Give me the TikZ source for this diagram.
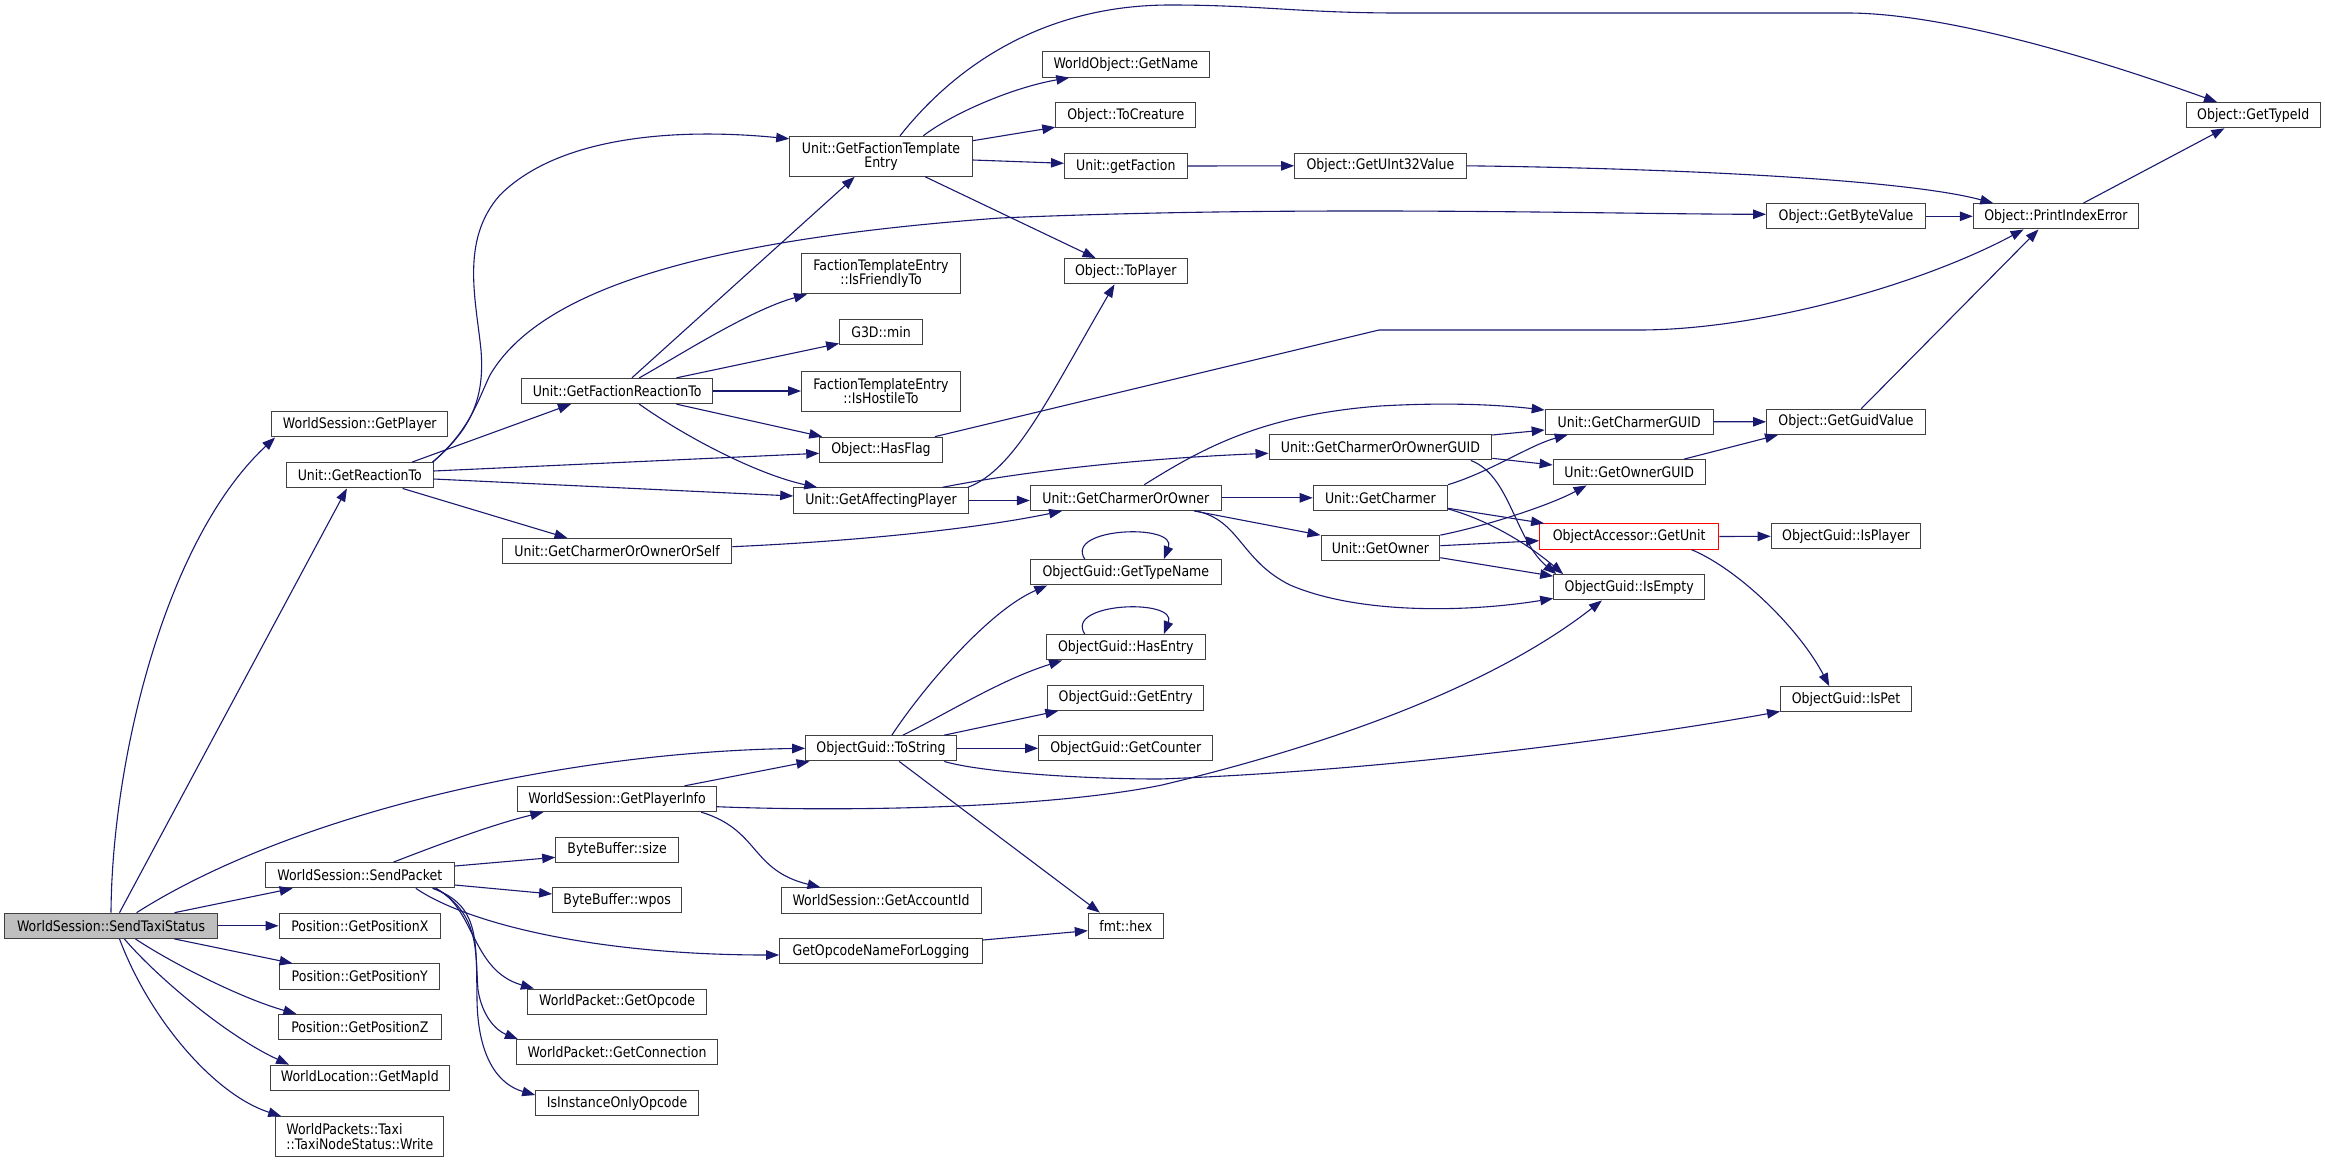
\documentclass[tikz,border=0pt]{standalone}
\usepackage{fontspec}
\newfontfamily\dvs[FakeStretch=0.865]{DejaVu Sans}
\usetikzlibrary{arrows.meta,calc}
\definecolor{edgecol}{HTML}{191970}
\definecolor{rootfill}{HTML}{BFBFBF}
\begin{document}
\begin{tikzpicture}[x=1bp,y=-1bp,
  fn/.style={draw=black!75, line width=1bp, fill=white, inner sep=0pt, minimum height=25.3bp,
     font=\dvs\fontsize{14.5bp}{14.3bp}\selectfont, text=black},
  two/.style={fn, minimum height=40bp, align=center},
  e/.style={draw=edgecol, line width=1.1bp, -{Triangle[length=13bp,width=9.5bp]}}]
\fill[white] (0,0) rectangle (2325,1163);
\useasboundingbox (0,0) rectangle (2325,1163);
% rank 0
\node[fn, fill=rootfill, minimum width=212.3bp] (S) at (111,925.8) {WorldSession::SendTaxiStatus};
% rank 1
\node[fn, minimum width=176.3bp] (GP)  at (359.8,424.3) {WorldSession::GetPlayer};
\node[fn, minimum width=146.6bp] (GRT) at (359.8,475.3) {Unit::GetReactionTo};
\node[fn, minimum width=189.3bp] (SP)  at (359.8,875.2) {WorldSession::SendPacket};
\node[fn, minimum width=161.5bp] (PX)  at (359.8,925.8) {Position::GetPositionX};
\node[fn, minimum width=160bp]   (PY)  at (359.8,976.5) {Position::GetPositionY};
\node[fn, minimum width=163bp]   (PZ)  at (359.8,1027) {Position::GetPositionZ};
\node[fn, minimum width=179bp]   (MAP) at (359.8,1077.8) {WorldLocation::GetMapId};
\node[two, minimum width=168.1bp, align=left] (WR) at (359.8,1136.7) {WorldPackets::Taxi\\::TaxiNodeStatus::Write};
% rank 2
\node[fn, minimum width=190.6bp] (GFR)   at (617.1,391) {Unit::GetFactionReactionTo};
\node[fn, minimum width=229.6bp] (GCOOS) at (617.1,551.2) {Unit::GetCharmerOrOwnerOrSelf};
\node[fn, minimum width=198.4bp] (GPI)   at (617.1,799) {WorldSession::GetPlayerInfo};
\node[fn, minimum width=122.7bp] (BS)    at (617.1,849.7) {ByteBuffer::size};
\node[fn, minimum width=129bp]   (BW)    at (617.1,900.3) {ByteBuffer::wpos};
\node[fn, minimum width=178.8bp] (GOP)   at (617.1,1001.7) {WorldPacket::GetOpcode};
\node[fn, minimum width=201.4bp] (GCN)   at (617.1,1052.3) {WorldPacket::GetConnection};
\node[fn, minimum width=162.8bp] (IIO)   at (617.1,1103) {IsInstanceOnlyOpcode};
% rank 3
\node[two, minimum width=182.6bp] (GFTE) at (881,156.3) {Unit::GetFactionTemplate\\Entry};
\node[two, minimum width=159bp]   (IFT)  at (881,273.8) {FactionTemplateEntry\\::IsFriendlyTo};
\node[fn, minimum width=82.8bp]   (MIN)  at (881,332.3) {G3D::min};
\node[two, minimum width=159bp]   (IHT)  at (881,391) {FactionTemplateEntry\\::IsHostileTo};
\node[fn, minimum width=122.5bp]  (HF)   at (881,449.8) {Object::HasFlag};
\node[fn, minimum width=174.5bp]  (GAP)  at (881,500.5) {Unit::GetAffectingPlayer};
\node[fn, minimum width=150.7bp]  (TS)   at (881,748.3) {ObjectGuid::ToString};
\node[fn, minimum width=200bp]    (GAI)  at (881,900.5) {WorldSession::GetAccountId};
\node[fn, minimum width=202.7bp]  (GON)  at (881,951.2) {GetOpcodeNameForLogging};
% rank 4
\node[fn, minimum width=167bp]   (GN)  at (1125.8,64.5) {WorldObject::GetName};
\node[fn, minimum width=140bp]   (TC)  at (1125.8,115.3) {Object::ToCreature};
\node[fn, minimum width=122.7bp] (GF)  at (1125.8,166) {Unit::getFaction};
\node[fn, minimum width=122.7bp] (TP)  at (1125.8,271.2) {Object::ToPlayer};
\node[fn, minimum width=191bp]   (GCO) at (1125.8,497.8) {Unit::GetCharmerOrOwner};
\node[fn, minimum width=191bp]   (GTN) at (1125.8,572.3) {ObjectGuid::GetTypeName};
\node[fn, minimum width=159bp]   (HE)  at (1125.8,647.3) {ObjectGuid::HasEntry};
\node[fn, minimum width=156bp]   (GE)  at (1125.8,697.7) {ObjectGuid::GetEntry};
\node[fn, minimum width=174.3bp] (GCT) at (1125.8,748.3) {ObjectGuid::GetCounter};
\node[fn, minimum width=75bp]    (HEX) at (1125.8,925.7) {fmt::hex};
% rank 5
\node[fn, minimum width=171.5bp] (GU32) at (1380.4,165.8) {Object::GetUInt32Value};
\node[fn, minimum width=222.7bp] (GCOG) at (1380.4,447.3) {Unit::GetCharmerOrOwnerGUID};
\node[fn, minimum width=134.4bp] (GC)   at (1380.4,497.8) {Unit::GetCharmer};
\node[fn, minimum width=118.8bp] (GO)   at (1380.4,548.3) {Unit::GetOwner};
% rank 6
\node[fn, minimum width=168bp]   (GCG) at (1629.2,421.7) {Unit::GetCharmerGUID};
\node[fn, minimum width=152.2bp] (GOG) at (1629.2,472.3) {Unit::GetOwnerGUID};
\node[fn, minimum width=179.2bp, draw=red] (GUN) at (1629.2,536.5) {ObjectAccessor::GetUnit};
\node[fn, minimum width=151bp]   (IE)  at (1629.2,587.3) {ObjectGuid::IsEmpty};
% rank 7
\node[fn, minimum width=159bp]   (GBV)  at (1846,216.3) {Object::GetByteValue};
\node[fn, minimum width=159bp]   (GGV)  at (1846,421.8) {Object::GetGuidValue};
\node[fn, minimum width=149.6bp] (IP)   at (1846,536.3) {ObjectGuid::IsPlayer};
\node[fn, minimum width=131bp]   (IPet) at (1846,699.3) {ObjectGuid::IsPet};
% rank 8, 9
\node[fn, minimum width=165.3bp] (PIE) at (2055.9,216.3) {Object::PrintIndexError};
\node[fn, minimum width=134bp]   (GTI) at (2253.2,115.2) {Object::GetTypeId};

% edges from SendTaxiStatus
\draw[e] (S.north) .. controls (112,760) and (165,540) .. ($(GP.south west)+(4,0)$);
\draw[e] ($(S.north)+(8.5,0)$) -- ($(GRT.south)+(-12.9,0)$);
\draw[e] ($(S.north)+(25.6,0)$) .. controls (290,815) and (560,752) .. (TS.west);
\draw[e] ($(S.north)+(63.5,0)$) -- ($(SP.south west)+(28,0)$);
\draw[e] (S.east) -- (PX.west);
\draw[e] ($(S.south)+(63.5,0)$) -- ($(PY.north west)+(13.3,0)$);
\draw[e] ($(S.south)+(24.5,0)$) .. controls (170,962) and (240,998) .. ($(PZ.north west)+(18.6,0)$);
\draw[e] ($(S.south)+(13.4,0)$) .. controls (155,975) and (225,1035) .. ($(MAP.north west)+(19.3,0)$);
\draw[e] ($(S.south)+(8.5,0)$) .. controls (150,1020) and (215,1095) .. ($(WR.north west)+(6,0)$);
% GetReactionTo
\draw[e] ($(GRT.north east)+(-1,0)$) .. controls (470,430) and (485,400) .. (481,350) .. controls (476,300) and (460,240) .. (500,195) .. controls (560,135) and (680,128) .. ($(GFTE.north west)+(0,3)$);
\draw[e] ($(GRT.north east)+(-1,0)$) .. controls (470,430) and (478,400) .. (490,375) .. controls (540,290) and (700,240) .. (1000,218) .. controls (1300,205) and (1600,214) .. ($(GBV.west)+(0,-2)$);
\draw[e] ($(GRT.north)+(52.1,0)$) -- ($(GFR.south west)+(49.7,0)$);
\draw[e] ($(GRT.east)+(0,-4.3)$) -- ($(HF.west)+(0,3.5)$);
\draw[e] ($(GRT.east)+(0,3.7)$) -- ($(GAP.west)+(0,-4.5)$);
\draw[e] ($(GRT.south)+(42.8,0)$) -- ($(GCOOS.north west)+(65.7,0)$);
% GetFactionReactionTo
\draw[e] ($(GFR.north)+(14.8,0)$) -- ($(GFTE.south)+(-26.3,0)$);
\draw[e] ($(GFR.north)+(22.2,0)$) .. controls (680,355) and (750,310) .. ($(IFT.south west)+(6,0)$);
\draw[e] ($(GFR.north)+(59.3,0)$) -- ($(MIN.south west)+(0,-2)$);
\draw[e] (GFR.east) -- (IHT.west);
\draw[e] ($(GFR.south)+(59.3,0)$) -- ($(HF.north west)+(3,0)$);
\draw[e] ($(GFR.south)+(22.2,0)$) .. controls (690,440) and (760,475) .. ($(GAP.north west)+(24,0)$);
% GetFactionTemplateEntry
\draw[e] ($(GFTE.north)+(19,0)$) .. controls (960,60) and (1050,5) .. (1170,5) .. controls (1260,5) and (1300,13) .. (1400,13) -- (1850,13) .. controls (1950,14) and (2100,60) .. ($(GTI.north west)+(31.3,0)$);
\draw[e] ($(GFTE.north)+(42.3,0)$) .. controls (950,115) and (1010,88) .. ($(GN.south west)+(27.5,0)$);
\draw[e] ($(GFTE.east)+(0,-15.6)$) -- ($(TC.south west)+(0,-1.3)$);
\draw[e] ($(GFTE.east)+(0,3.7)$) -- ($(GF.west)+(0,-2.7)$);
\draw[e] ($(GFTE.south)+(44.2,0)$) -- ($(TP.north west)+(31.6,0)$);
\draw[e] (GF.east) -- (GU32.west);
\draw[e] (GU32.east) .. controls (1650,168) and (1900,178) .. ($(PIE.north west)+(20.5,0)$);
\draw[e] (GBV.east) -- (PIE.west);
\draw[e] ($(PIE.north)+(27.4,0)$) -- ($(GTI.south west)+(38.7,0)$);
\draw[e] ($(HF.north east)+(-7.8,0)$) -- (1379,330) -- (1638.8,330) .. controls (1760,330) and (1920,285) .. ($(PIE.south)+(-32.3,0)$);
% GetAffectingPlayer
\draw[e] ($(GAP.north east)+(-1,0)$) .. controls (1015,470) and (1050,395) .. ($(TP.south)+(-11.3,0)$);
\draw[e] ($(GAP.north east)+(-26.4,0)$) .. controls (1030,470) and (1150,458) .. ($(GCOG.west)+(0,6)$);
\draw[e] (GAP.east) -- ($(GCO.west)+(0,2.7)$);
\draw[e] ($(GCOOS.east)+(0,-4.5)$) .. controls (880,540) and (990,526) .. ($(GCO.south west)+(32.3,0)$);
% GetCharmerOrOwner
\draw[e] ($(GCO.north)+(18.5,0)$) .. controls (1200,450) and (1260,415) .. (1380,406) .. controls (1450,402) and (1500,405) .. ($(GCG.west)+(0,-11.7)$);
\draw[e] (GCO.east) -- (GC.west);
\draw[e] ($(GCO.south east)+(-27.8,0)$) -- (GO.north west);
\draw[e] ($(GCO.south east)+(-25.9,0)$) .. controls (1240,520) and (1240,560) .. (1290,585) .. controls (1360,615) and (1470,612) .. ($(IE.south west)+(0,-2)$);
% GetCharmerOrOwnerGUID
\draw[e] ($(GCOG.east)+(0,-12.3)$) -- ($(GCG.west)+(0,8.3)$);
\draw[e] ($(GCOG.east)+(0,11)$) -- ($(GOG.west)+(0,-7.3)$);
\draw[e] ($(GCOG.south east)+(-21.5,0)$) .. controls (1510,475) and (1515,540) .. ($(IE.north west)+(3,0)$);
% GetCharmer
\draw[e] (GC.north east) .. controls (1490,472) and (1530,445) .. ($(GCG.south west)+(23,0)$);
\draw[e] ($(GC.east)+(0,10.5)$) -- ($(GUN.north west)+(5,0)$);
\draw[e] ($(GC.south east)+(0,-2)$) .. controls (1495,522) and (1535,550) .. ($(IE.north west)+(10,0)$);
% GetOwner
\draw[e] (GO.north east) .. controls (1490,525) and (1550,505) .. ($(GOG.south west)+(34,0)$);
\draw[e] ($(GO.east)+(0,-2.6)$) -- ($(GUN.west)+(0,4.2)$);
\draw[e] ($(GO.east)+(0,9.4)$) -- ($(IE.north west)+(0,2)$);
% GetUnit
\draw[e] (GUN.east) -- (IP.west);
\draw[e] ($(GUN.south east)+(-27.8,0)$) .. controls (1740,570) and (1800,630) .. ($(IPet.north west)+(49.3,0)$);
% GUIDs
\draw[e] (GCG.east) -- (GGV.west);
\draw[e] ($(GOG.north east)+(-21.9,0)$) -- ($(GGV.south west)+(12,0)$);
\draw[e] ($(GGV.north)+(15.3,0)$) -- ($(PIE.south)+(-17.4,0)$);
% ToString
\draw[e] ($(TS.north)+(10.8,0)$) .. controls (925,685) and (990,610) .. ($(GTN.south west)+(17.5,0)$);
\draw[e] ($(TS.north)+(21.9,0)$) .. controls (950,712) and (1000,680) .. ($(HE.south west)+(16.3,0)$);
\draw[e] ($(TS.north east)+(-12.6,0)$) -- ($(GE.south west)+(11,0)$);
\draw[e] (TS.east) -- (GCT.west);
\draw[e] ($(TS.south east)+(-12.6,0)$) .. controls (980,772) and (1080,779) .. (1160,779) .. controls (1400,770) and (1650,735) .. ($(IPet.south west)+(0,-1)$);
\draw[e] ($(TS.south)+(18.2,0)$) -- ($(HEX.north west)+(12,0)$);
% self loops
\draw[e] ($(GTN.north)+(-41,0)$) .. controls ($(GTN.north)+(-62,-32)$) and ($(GTN.north)+(52,-36)$) .. ($(GTN.north)+(38,0)$);
\draw[e] ($(HE.north)+(-41,0)$) .. controls ($(HE.north)+(-62,-32)$) and ($(HE.north)+(52,-36)$) .. ($(HE.north)+(38,0)$);
% GetPlayerInfo
\draw[e] ($(GPI.north east)+(-32.3,0)$) -- ($(TS.south west)+(4.4,0)$);
\draw[e] ($(GPI.south east)+(-15.6,0)$) .. controls (760,830) and (750,870) .. ($(GAI.north west)+(40,0)$);
\draw[e] ($(GPI.east)+(0,7.7)$) .. controls (850,812) and (1050,808) .. (1162,785) .. controls (1350,740) and (1500,680) .. ($(IE.south)+(-27.3,0)$);
% SendPacket
\draw[e] ($(SP.north)+(33.8,0)$) .. controls (430,848) and (490,825) .. ($(GPI.south west)+(26,0)$);
\draw[e] ($(SP.east)+(0,-9.2)$) -- ($(BS.west)+(0,7.6)$);
\draw[e] ($(SP.east)+(0,9.8)$) -- ($(BW.west)+(0,-6.3)$);
\draw[e] ($(SP.south)+(56,0)$) .. controls (470,925) and (600,955) .. ($(GON.west)+(0,3.8)$);
\draw[e] ($(SP.south)+(74.6,0)$) .. controls (475,905) and (470,970) .. ($(GOP.north west)+(6.7,0)$);
\draw[e] ($(SP.south)+(76.5,0)$) .. controls (480,915) and (475,950) .. (478,990) .. controls (482,1015) and (495,1030) .. ($(GCN.north west)+(2,0)$);
\draw[e] ($(SP.south)+(72.7,0)$) .. controls (480,905) and (476,940) .. (477,1000) .. controls (478,1060) and (500,1085) .. ($(IIO.west)+(0,-8)$);
\draw[e] ($(GON.east)+(0,-11.2)$) -- ($(HEX.west)+(0,5)$);
\end{tikzpicture}
\end{document}
